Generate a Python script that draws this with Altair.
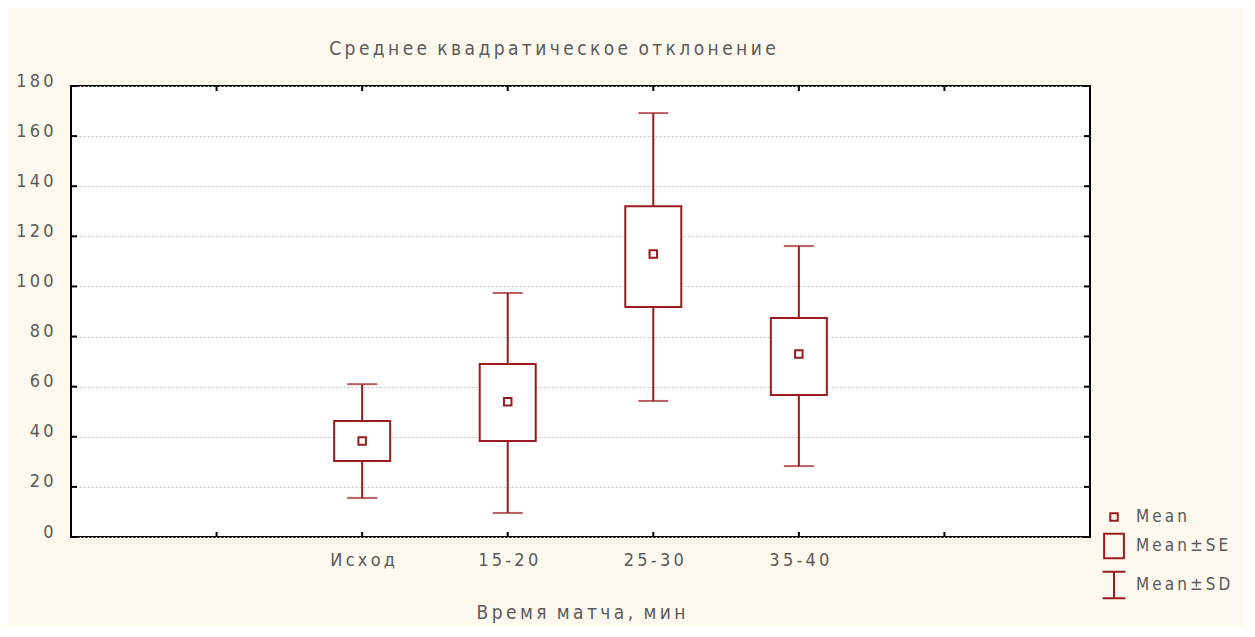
import altair as alt
import pandas as pd

categories = ["Исход", "15-20", "25-30", "35-40"]
means = [38.3, 54.0, 112.9, 73.0]
se_low = [30.3, 38.3, 91.8, 56.7]
se_high = [46.3, 69.0, 132.0, 87.4]
sd_low = [15.6, 9.6, 54.3, 28.3]
sd_high = [61.0, 97.4, 169.2, 116.1]
y_ticks = [0, 20, 40, 60, 80, 100, 120, 140, 160, 180]
legend_labels = ["Mean", "Mean±SE", "Mean±SD"]

RED = "#9B1B1E"
TXT = "#5a5a5a"
FONT = "Liberation Sans Narrow, DejaVu Sans Condensed, Liberation Sans, sans-serif"
SP = "\u2009"
W, H = 1019, 451


def spaced_text(s):
    return (SP * 3).join(SP.join(list(w)) for w in s.split(" "))


x_domain = [" "] + categories + ["  "]

df = pd.DataFrame({
    "cat": categories, "mean": means, "se_low": se_low, "se_high": se_high,
    "sd_low": sd_low, "sd_high": sd_high,
})

xscale = alt.Scale(type="point", domain=x_domain, padding=1)
yscale = alt.Scale(domain=[0, 180], nice=False)
spaced = "join(split(datum.label, ''), '" + SP + "')"

x_enc = alt.X("cat:N", scale=xscale, sort=None,
              axis=alt.Axis(title=spaced_text("Время матча, мин"), labelExpr=spaced,
                            labelAngle=0, ticks=False, domain=False, labelPadding=14,
                            titlePadding=34, labelFont=FONT, titleFont=FONT,
                            labelFontSize=18, titleFontSize=19, labelColor=TXT,
                            titleColor=TXT, titleFontWeight="normal"))
y_axis = alt.Axis(title=None, values=y_ticks, ticks=False, domain=False, labelPadding=18,
                  labelExpr=spaced, labelFont=FONT, labelFontSize=18, labelColor=TXT,
                  labelOffset=-5,
                  grid=True, gridColor="#c4c4c4", gridDash=[2, 2], gridWidth=1)

base = alt.Chart(df)

whisk = base.mark_rule(color=RED, strokeWidth=2).encode(
    x=x_enc, y=alt.Y("sd_low:Q", scale=yscale, axis=y_axis), y2="sd_high:Q")
cap_lo = base.mark_tick(color=RED, size=30, thickness=2).encode(
    x=alt.X("cat:N", scale=xscale, sort=None), y=alt.Y("sd_low:Q", scale=yscale))
cap_hi = base.mark_tick(color=RED, size=30, thickness=2).encode(
    x=alt.X("cat:N", scale=xscale, sort=None), y=alt.Y("sd_high:Q", scale=yscale))
box = base.mark_bar(size=56, fill="white", stroke=RED, strokeWidth=2).encode(
    x=alt.X("cat:N", scale=xscale, sort=None), y=alt.Y("se_low:Q", scale=yscale), y2="se_high:Q")

paths = [
    "M-0.25,-0.25H0.25V0.25H-0.25Z",
    "M-0.66,-0.82H0.66V0.82H-0.66Z",
    "M-0.76,-0.88H0.76M0,-0.88V0.88M-0.76,0.88H0.76",
]
mean_pt = base.mark_point(filled=False, size=900, strokeWidth=2, color=RED, opacity=1).transform_calculate(
    kind="'Mean'"
).encode(
    x=alt.X("cat:N", scale=xscale, sort=None),
    y=alt.Y("mean:Q", scale=yscale),
    shape=alt.Shape("kind:N", scale=alt.Scale(domain=legend_labels, range=paths),
                    legend=alt.Legend(title=None, orient="none", legendX=1027, legendY=415,
                                      symbolSize=900, symbolStrokeWidth=2, symbolStrokeColor=RED,
                                      symbolFillColor="transparent", symbolOpacity=1,
                                      labelExpr=spaced, labelFont=FONT, labelFontSize=17,
                                      labelColor=TXT, rowPadding=4, labelOffset=6)),
)

tick_df = pd.DataFrame({"cat": x_domain})
ytick_df = pd.DataFrame({"v": y_ticks})
xt_bot = alt.Chart(tick_df).mark_rule(color="black", strokeWidth=2).encode(
    x=alt.X("cat:N", scale=xscale, sort=None), y=alt.value(H), y2=alt.value(H - 5))
xt_top = alt.Chart(tick_df).mark_rule(color="black", strokeWidth=2).encode(
    x=alt.X("cat:N", scale=xscale, sort=None), y=alt.value(0), y2=alt.value(5))
yt_l = alt.Chart(ytick_df).mark_rule(color="black", strokeWidth=2).encode(
    y=alt.Y("v:Q", scale=yscale), x=alt.value(0), x2=alt.value(6))
yt_r = alt.Chart(ytick_df).mark_rule(color="black", strokeWidth=2).encode(
    y=alt.Y("v:Q", scale=yscale), x=alt.value(W), x2=alt.value(W - 6))

title_text = spaced_text("Среднее квадратическое отклонение")

chart = alt.layer(whisk, cap_lo, cap_hi, box, mean_pt, xt_bot, xt_top, yt_l, yt_r).properties(
    width=W, height=H,
    title=alt.TitleParams(title_text, font=FONT, fontSize=19, color=TXT, fontWeight="normal",
                          anchor="middle", offset=13, dx=-28),
    autosize=alt.AutoSizeParams(type="none"),
    padding={"left": 63, "top": 78, "right": 153, "bottom": 89},
).configure(background="#FDF9EE").configure_view(fill="white", stroke="black", strokeWidth=2)

chart.save("out.html", embed_options={"renderer": "svg", "actions": False})
